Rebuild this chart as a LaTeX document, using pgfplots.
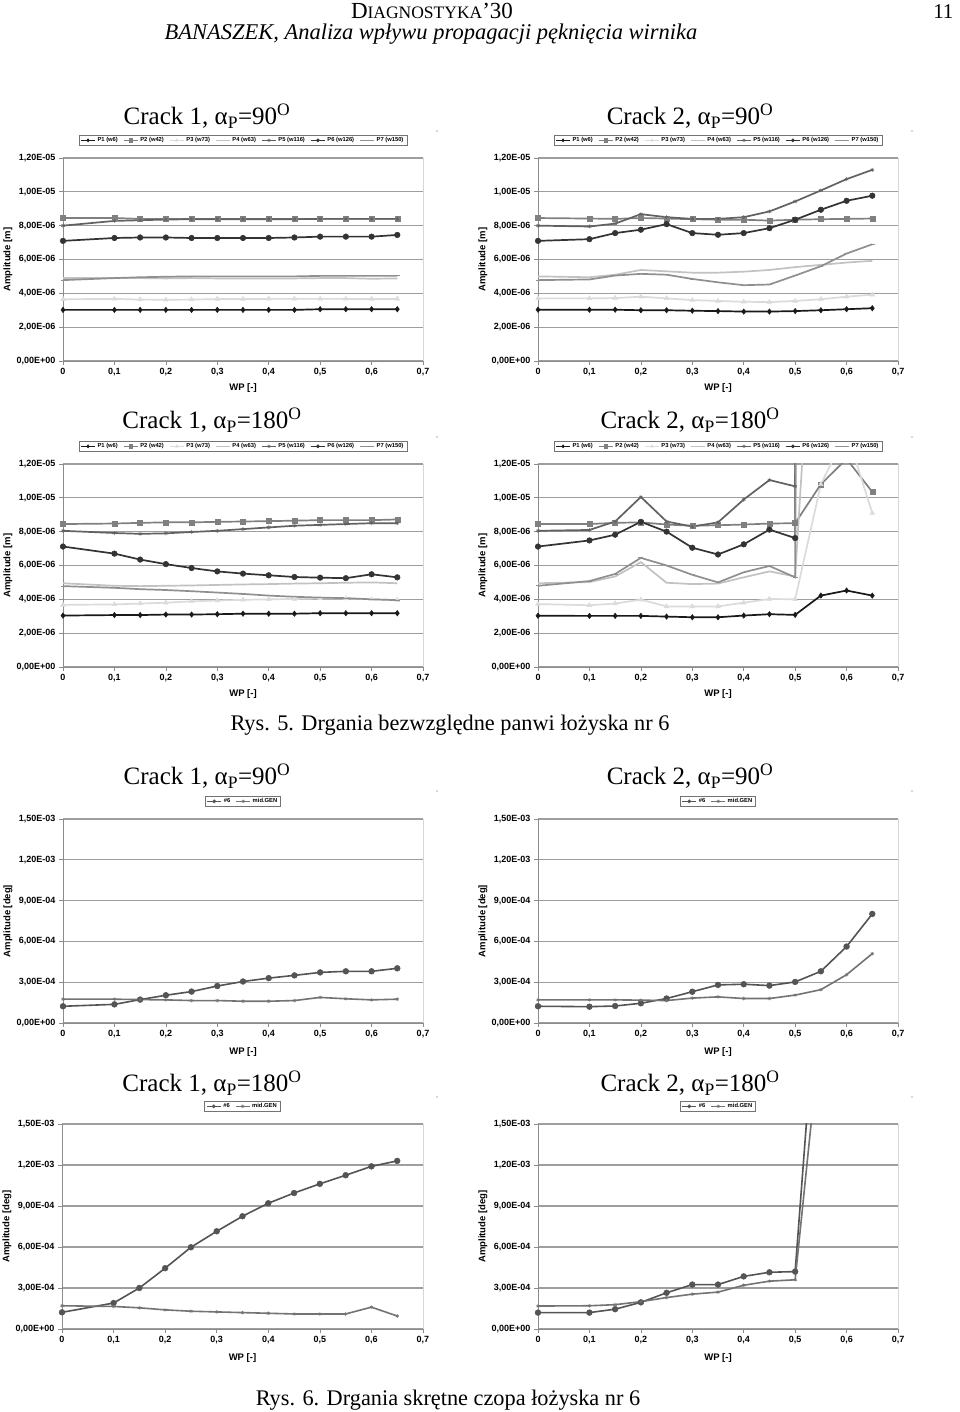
\documentclass[border=0pt]{standalone}
\usepackage{pgfplots}
\pgfplotsset{compat=1.18}
\usepackage{pgfplotstable}
\usepackage{fontspec}
\setmainfont{Liberation Serif}
\setsansfont{Liberation Sans}

\definecolor{cP1}{gray}{0.10}
\definecolor{cP2}{gray}{0.50}
\definecolor{cP3}{gray}{0.86}
\definecolor{cP4}{gray}{0.76}
\definecolor{cP5}{gray}{0.38}
\definecolor{cP6}{gray}{0.20}
\definecolor{cP7}{gray}{0.56}
\definecolor{cT6}{gray}{0.33}
\definecolor{cTM}{gray}{0.45}
\definecolor{gridc}{gray}{0.62}
\definecolor{framec}{gray}{0.84}
\definecolor{axc}{gray}{0.55}
\definecolor{legc}{gray}{0.45}

\newcommand\tkfont{\sffamily\bfseries\fontsize{9}{10}\selectfont}
\newcommand\lbfont{\sffamily\bfseries\fontsize{9.5}{11}\selectfont}
\newcommand\lgfont{\sffamily\bfseries\fontsize{5.8}{6.5}\selectfont}
\newcommand\ttl[2]{Crack #1, α\textsubscript{P}=#2\textsuperscript{O}}

% Crack 1, alpha_P = 90 (bearing, absolute vibration) [m]
\pgfplotstableread{
x    P1      P2      P3      P4      P5      P6      P7
0    3.02e-6 8.45e-6 3.65e-6 4.90e-6 8.00e-6 7.10e-6 4.78e-6
0.10 3.02e-6 8.45e-6 3.67e-6 4.90e-6 8.28e-6 7.27e-6 4.90e-6
0.15 3.02e-6 8.40e-6 3.63e-6 4.90e-6 8.32e-6 7.30e-6 4.95e-6
0.20 3.02e-6 8.40e-6 3.62e-6 4.88e-6 8.36e-6 7.30e-6 4.98e-6
0.25 3.02e-6 8.40e-6 3.63e-6 4.90e-6 8.38e-6 7.27e-6 5.00e-6
0.30 3.02e-6 8.40e-6 3.66e-6 4.88e-6 8.38e-6 7.27e-6 5.00e-6
0.35 3.02e-6 8.40e-6 3.66e-6 4.88e-6 8.38e-6 7.27e-6 5.00e-6
0.40 3.02e-6 8.40e-6 3.67e-6 4.88e-6 8.38e-6 7.27e-6 5.00e-6
0.45 3.02e-6 8.40e-6 3.67e-6 4.88e-6 8.38e-6 7.30e-6 5.00e-6
0.50 3.06e-6 8.40e-6 3.67e-6 4.90e-6 8.40e-6 7.35e-6 5.03e-6
0.55 3.06e-6 8.40e-6 3.67e-6 4.90e-6 8.40e-6 7.35e-6 5.03e-6
0.60 3.06e-6 8.40e-6 3.66e-6 4.86e-6 8.40e-6 7.35e-6 5.03e-6
0.65 3.06e-6 8.40e-6 3.67e-6 4.88e-6 8.40e-6 7.45e-6 5.03e-6
}\tabA

% Crack 2, alpha_P = 90
\pgfplotstableread{
x    P1      P2      P3      P4      P5       P6      P7
0    3.03e-6 8.45e-6 3.70e-6 5.00e-6 8.00e-6  7.10e-6 4.78e-6
0.10 3.03e-6 8.42e-6 3.70e-6 4.95e-6 7.95e-6  7.20e-6 4.82e-6
0.15 3.03e-6 8.40e-6 3.72e-6 5.10e-6 8.12e-6  7.56e-6 5.05e-6
0.20 3.00e-6 8.45e-6 3.80e-6 5.38e-6 8.68e-6  7.76e-6 5.15e-6
0.25 3.00e-6 8.42e-6 3.70e-6 5.30e-6 8.50e-6  8.09e-6 5.10e-6
0.30 2.97e-6 8.38e-6 3.60e-6 5.22e-6 8.40e-6  7.56e-6 4.85e-6
0.35 2.95e-6 8.35e-6 3.55e-6 5.22e-6 8.40e-6  7.46e-6 4.65e-6
0.40 2.92e-6 8.35e-6 3.50e-6 5.28e-6 8.50e-6  7.56e-6 4.48e-6
0.45 2.92e-6 8.30e-6 3.48e-6 5.38e-6 8.84e-6  7.85e-6 4.52e-6
0.50 2.95e-6 8.35e-6 3.55e-6 5.55e-6 9.43e-6  8.35e-6 5.05e-6
0.55 3.00e-6 8.38e-6 3.65e-6 5.68e-6 10.08e-6 8.94e-6 5.60e-6
0.60 3.06e-6 8.40e-6 3.80e-6 5.82e-6 10.75e-6 9.47e-6 6.35e-6
0.65 3.12e-6 8.42e-6 3.92e-6 5.92e-6 11.30e-6 9.77e-6 6.90e-6
}\tabB

% Crack 1, alpha_P = 180
\pgfplotstableread{
x    P1      P2      P3      P4      P5      P6      P7
0    3.04e-6 8.45e-6 3.67e-6 4.95e-6 8.05e-6 7.12e-6 4.78e-6
0.10 3.07e-6 8.48e-6 3.70e-6 4.80e-6 7.92e-6 6.70e-6 4.68e-6
0.15 3.07e-6 8.52e-6 3.75e-6 4.78e-6 7.87e-6 6.35e-6 4.60e-6
0.20 3.10e-6 8.55e-6 3.80e-6 4.80e-6 7.90e-6 6.08e-6 4.55e-6
0.25 3.10e-6 8.55e-6 3.88e-6 4.82e-6 7.98e-6 5.85e-6 4.48e-6
0.30 3.12e-6 8.58e-6 3.93e-6 4.85e-6 8.05e-6 5.65e-6 4.40e-6
0.35 3.15e-6 8.60e-6 3.97e-6 4.88e-6 8.15e-6 5.52e-6 4.32e-6
0.40 3.15e-6 8.62e-6 4.00e-6 4.90e-6 8.25e-6 5.42e-6 4.22e-6
0.45 3.15e-6 8.65e-6 4.02e-6 4.93e-6 8.35e-6 5.32e-6 4.15e-6
0.50 3.18e-6 8.68e-6 4.05e-6 4.95e-6 8.40e-6 5.28e-6 4.10e-6
0.55 3.18e-6 8.68e-6 4.05e-6 4.98e-6 8.45e-6 5.25e-6 4.07e-6
0.60 3.18e-6 8.68e-6 4.00e-6 5.00e-6 8.50e-6 5.48e-6 4.00e-6
0.65 3.18e-6 8.72e-6 3.95e-6 4.95e-6 8.50e-6 5.30e-6 3.95e-6
}\tabC

% Crack 2, alpha_P = 180
\pgfplotstableread{
x    P1      P2       P3       P4      P5       P6      P7
0    3.03e-6 8.45e-6  3.72e-6  4.95e-6 8.05e-6  7.12e-6 4.80e-6
0.10 3.02e-6 8.45e-6  3.65e-6  5.02e-6 8.10e-6  7.48e-6 5.08e-6
0.15 3.02e-6 8.52e-6  3.75e-6  5.35e-6 8.60e-6  7.82e-6 5.50e-6
0.20 3.02e-6 8.55e-6  3.98e-6  6.20e-6 10.05e-6 8.58e-6 6.45e-6
0.25 2.98e-6 8.42e-6  3.58e-6  4.98e-6 8.60e-6  8.00e-6 6.00e-6
0.30 2.94e-6 8.35e-6  3.58e-6  4.90e-6 8.30e-6  7.05e-6 5.45e-6
0.35 2.94e-6 8.38e-6  3.58e-6  4.93e-6 8.55e-6  6.65e-6 5.00e-6
0.40 3.04e-6 8.42e-6  3.80e-6  5.30e-6 9.90e-6  7.25e-6 5.60e-6
0.45 3.12e-6 8.48e-6  4.02e-6  5.65e-6 11.05e-6 8.12e-6 5.97e-6
0.50 3.08e-6 8.50e-6  4.00e-6  5.35e-6 10.68e-6 7.62e-6 5.30e-6
0.55 4.22e-6 10.80e-6 10.80e-6 3.0e-5  5.0e-4   5.0e-4  5.0e-4
0.60 4.52e-6 12.30e-6 13.90e-6 5.0e-4  5.0e-4   5.0e-4  5.0e-4
0.65 4.22e-6 10.35e-6 9.10e-6  5.0e-4  5.0e-4   5.0e-4  5.0e-4
}\tabD

% torsional [deg]
\pgfplotstableread{
x    S6      MG
0    1.23e-4 1.75e-4
0.10 1.37e-4 1.75e-4
0.15 1.72e-4 1.72e-4
0.20 2.04e-4 1.70e-4
0.25 2.31e-4 1.65e-4
0.30 2.72e-4 1.65e-4
0.35 3.05e-4 1.60e-4
0.40 3.30e-4 1.60e-4
0.45 3.50e-4 1.65e-4
0.50 3.72e-4 1.88e-4
0.55 3.80e-4 1.78e-4
0.60 3.80e-4 1.70e-4
0.65 4.02e-4 1.75e-4
}\tabE
\pgfplotstableread{
x    S6      MG
0    1.23e-4 1.70e-4
0.10 1.20e-4 1.70e-4
0.15 1.25e-4 1.70e-4
0.20 1.45e-4 1.68e-4
0.25 1.80e-4 1.65e-4
0.30 2.30e-4 1.83e-4
0.35 2.80e-4 1.92e-4
0.40 2.85e-4 1.80e-4
0.45 2.75e-4 1.80e-4
0.50 3.02e-4 2.05e-4
0.55 3.80e-4 2.45e-4
0.60 5.62e-4 3.55e-4
0.65 8.02e-4 5.10e-4
}\tabF
\pgfplotstableread{
x    S6       MG
0    1.22e-4  1.70e-4
0.10 1.90e-4  1.65e-4
0.15 3.00e-4  1.55e-4
0.20 4.45e-4  1.40e-4
0.25 5.98e-4  1.30e-4
0.30 7.15e-4  1.25e-4
0.35 8.25e-4  1.20e-4
0.40 9.20e-4  1.15e-4
0.45 9.95e-4  1.10e-4
0.50 10.62e-4 1.10e-4
0.55 11.25e-4 1.10e-4
0.60 11.90e-4 1.60e-4
0.65 12.30e-4 0.95e-4
}\tabG
\pgfplotstableread{
x    S6      MG
0    1.20e-4 1.68e-4
0.10 1.20e-4 1.70e-4
0.15 1.45e-4 1.78e-4
0.20 1.95e-4 2.00e-4
0.25 2.65e-4 2.30e-4
0.30 3.25e-4 2.55e-4
0.35 3.25e-4 2.70e-4
0.40 3.85e-4 3.20e-4
0.45 4.15e-4 3.50e-4
0.50 4.20e-4 3.60e-4
0.55 2.9e-3  2.2e-3
0.60 3.0e-3  2.5e-3
0.65 3.1e-3  2.6e-3
}\tabH

\pgfplotsset{
  panel/.style={
    scale only axis, width=360pt, height=203pt, anchor=south west,
    xmin=0, xmax=0.7, ymin=0,
    axis x line*=bottom, axis y line*=left,
    axis line style={axc, line width=0.9pt},
    axis background/.style={draw=framec, line width=0.9pt},
    tick align=outside, major tick length=4pt,
    every tick/.style={axc, line width=0.7pt},
    xtick={0,0.1,0.2,0.3,0.4,0.5,0.6,0.7},
    xticklabels={0,{0,1},{0,2},{0,3},{0,4},{0,5},{0,6},{0,7}},
    ymajorgrids, major grid style={gridc, line width=1.1pt},
    ticklabel style={font=\tkfont},
    scaled x ticks=false, scaled y ticks=false,
    xlabel={WP [-]},
    every axis x label/.style={at={(axis description cs:0.5,0)}, yshift=-27pt, anchor=center, font=\lbfont},
    every axis y label/.style={at={(axis description cs:0,0.5)}, xshift=-55pt, rotate=90, anchor=center, font=\lbfont},
    legend columns=-1,
    legend style={at={(0.5,1)}, anchor=south, yshift=12pt, draw=legc, line width=0.6pt,
      font=\lgfont, inner xsep=1.5pt, inner ysep=0.5pt,
      /tikz/every even column/.append style={column sep=3.5pt}},
    legend image code/.code={\draw[mark repeat=2, mark phase=2, ##1, line width=1pt, mark size=1.6pt]
      plot coordinates {(0pt,0pt) (7pt,0pt) (14pt,0pt)};},
  },
  mpanel/.style={panel, ymax=1.2e-5,
    ytick={0,2e-6,4e-6,6e-6,8e-6,1e-5,1.2e-5},
    yticklabels={{0,00E+00},{2,00E-06},{4,00E-06},{6,00E-06},{8,00E-06},{1,00E-05},{1,20E-05}},
    ylabel={Amplitude [m]}},
  tpanel/.style={panel, ymax=1.5e-3, height=204pt,
    ytick={0,3e-4,6e-4,9e-4,1.2e-3,1.5e-3},
    yticklabels={{0,00E+00},{3,00E-04},{6,00E-04},{9,00E-04},{1,20E-03},{1,50E-03}},
    ylabel={Amplitude [deg]},
    every axis x label/.style={at={(axis description cs:0.5,0)}, yshift=-29pt, anchor=center, font=\lbfont}},
  sP1/.style={cP1, line width=1.7pt, mark=diamond*, mark size=2.7pt, mark options={solid, line width=0.5pt, fill=cP1}},
  sP2/.style={cP2, line width=1.7pt, mark=square*, mark size=2.5pt, mark options={solid, line width=0.5pt, fill=cP2}},
  sP3/.style={cP3, line width=1.7pt, mark=triangle*, mark size=2.7pt, mark options={solid, line width=0.5pt, fill=cP3}},
  sP4/.style={cP4, line width=1.7pt, mark=none},
  sP5/.style={cP5, line width=1.7pt, mark=asterisk, mark size=2pt, mark options={solid, line width=0.6pt}},
  sP6/.style={cP6, line width=1.7pt, mark=*, mark size=2.8pt, mark options={solid, line width=0.5pt, fill=cP6}},
  sP7/.style={cP7, line width=1.7pt, mark=-, mark size=2.4pt, mark options={solid, line width=0.8pt}},
  sT6/.style={cT6, line width=1.6pt, mark=*, mark size=2.9pt, mark options={solid, line width=0.5pt, fill=cT6}},
  sTM/.style={cTM, line width=1.6pt, mark=asterisk, mark size=1.8pt, mark options={solid, line width=0.6pt}},
}

\newcommand\sevenplots[1]{%
  \addplot[sP1] table[x=x,y=P1]{#1};
  \addplot[sP2] table[x=x,y=P2]{#1};
  \addplot[sP3] table[x=x,y=P3]{#1};
  \addplot[sP4] table[x=x,y=P4]{#1};
  \addplot[sP5] table[x=x,y=P5]{#1};
  \addplot[sP6] table[x=x,y=P6]{#1};
  \addplot[sP7] table[x=x,y=P7]{#1};
  \legend{P1 (w6),P2 (w42),P3 (w73),P4 (w63),P5 (w116),P6 (w126),P7 (w150)}
}
\newcommand\twoplots[1]{%
  \addplot[sT6] table[x=x,y=S6]{#1};
  \addplot[sTM] table[x=x,y=MG]{#1};
  \legend{\#6,mid.GEN}
}

\begin{document}
\begin{tikzpicture}[x=1pt,y=1pt]
\fill[white] (0,0) rectangle (960,1412);

% header
\node[anchor=base] at (432,1393) {\fontsize{23}{23}\selectfont D\fontsize{17.5}{17.5}\selectfont IAGNOSTYKA\fontsize{23}{23}\selectfont ’30};
\node[anchor=base east] at (957,1393) {\fontsize{21}{21}\selectfont 11};
\node[anchor=base] at (431,1372) {\fontsize{22.5}{22.5}\selectfont\itshape BANASZEK, Analiza wpływu propagacji pęknięcia wirnika};

% titles
\node[anchor=base] at (207,1287) {\fontsize{25}{25}\selectfont\ttl{1}{90}};
\node[anchor=base] at (690,1287) {\fontsize{25}{25}\selectfont\ttl{2}{90}};
\node[anchor=base] at (212,983) {\fontsize{25}{25}\selectfont\ttl{1}{180}};
\node[anchor=base] at (690,983) {\fontsize{25}{25}\selectfont\ttl{2}{180}};
\node[anchor=base] at (450,681) {\fontsize{22.3}{22.3}\selectfont Rys. 5. Drgania bezwzględne panwi łożyska nr 6};
\node[anchor=base] at (207,627) {\fontsize{25}{25}\selectfont\ttl{1}{90}};
\node[anchor=base] at (690,627) {\fontsize{25}{25}\selectfont\ttl{2}{90}};
\node[anchor=base] at (212,320) {\fontsize{25}{25}\selectfont\ttl{1}{180}};
\node[anchor=base] at (690,320) {\fontsize{25}{25}\selectfont\ttl{2}{180}};
\node[anchor=base] at (448,6) {\fontsize{22.3}{22.3}\selectfont Rys. 6. Drgania skrętne czopa łożyska nr 6};

% small specks
\foreach \yy in {1281,975,621,315} {
  \fill[gray!60] (437,\yy) circle (0.8);
  \fill[gray!60] (912,\yy) circle (0.8);
}

\begin{axis}[mpanel, at={(63pt,1051pt)}]
\sevenplots{\tabA}
\end{axis}
\begin{axis}[mpanel, at={(538pt,1051pt)}]
\sevenplots{\tabB}
\end{axis}
\begin{axis}[mpanel, at={(63pt,745pt)}]
\sevenplots{\tabC}
\end{axis}
\begin{axis}[mpanel, at={(538pt,745pt)}]
\sevenplots{\tabD}
\end{axis}

\begin{axis}[tpanel, at={(63pt,389pt)}]
\twoplots{\tabE}
\end{axis}
\begin{axis}[tpanel, at={(538pt,389pt)}]
\twoplots{\tabF}
\end{axis}
\begin{axis}[tpanel, at={(62pt,83pt)}, width=361pt, height=205pt]
\twoplots{\tabG}
\end{axis}
\begin{axis}[tpanel, at={(538pt,83pt)}, height=205pt]
\twoplots{\tabH}
\end{axis}

\pgfresetboundingbox
\path[use as bounding box] (0,0) rectangle (960,1412);
\end{tikzpicture}
\end{document}
